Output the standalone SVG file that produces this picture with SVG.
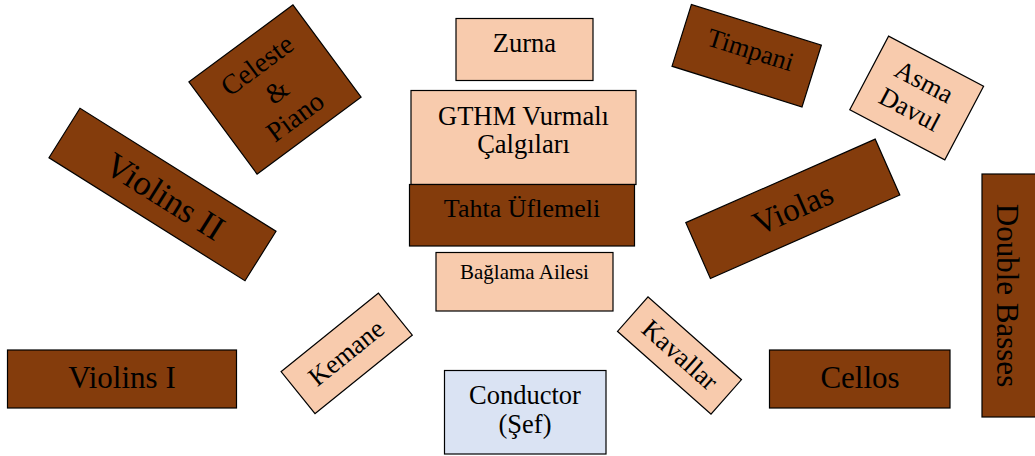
<svg xmlns="http://www.w3.org/2000/svg" width="1035" height="456" viewBox="0 0 1035 456">
  <style>
    .box { stroke: #000; stroke-width: 1.2; }
    .brown { fill: #843C0C; }
    .peach { fill: #F8CBAD; }
    .blue { fill: #DAE3F3; }
    text { font-family: "Liberation Serif", "Times New Roman", serif; fill: #000; text-anchor: middle; }
  </style>
  <rect width="1035" height="456" fill="#fff"/>

  <!-- strings, left side -->
  <g id="celeste-piano" transform="translate(275 89.5) rotate(-36.5)">
    <rect class="box brown" x="-64.7" y="-57.3" width="129.4" height="114.6"/>
    <text font-size="28" y="-21">Celeste</text>
    <text font-size="28" y="12">&amp;</text>
    <text font-size="28" y="43">Piano</text>
  </g>
  <g id="violins-2" transform="translate(162.5 194.5) rotate(32.1)">
    <rect class="box brown" x="-115.7" y="-29.2" width="231.4" height="58.4"/>
    <text font-size="35" x="3" y="12">Violins II</text>
  </g>
  <g id="violins-1">
    <rect class="box brown" x="7.5" y="350" width="229" height="58"/>
    <text font-size="31" x="122" y="388">Violins I</text>
  </g>
  <g id="kemane" transform="translate(346.7 353.3) rotate(-38.9)">
    <rect class="box peach" x="-62.5" y="-27" width="125" height="54"/>
    <text font-size="26.5" y="8">Kemane</text>
  </g>

  <!-- centre column -->
  <g id="zurna">
    <rect class="box peach" x="456" y="18.5" width="137" height="62"/>
    <text font-size="26.5" x="524.5" y="52">Zurna</text>
  </g>
  <g id="gthm-vurmali">
    <rect class="box peach" x="411" y="90.5" width="225" height="94"/>
    <text font-size="26.5" x="523.5" y="125">GTHM Vurmalı</text>
    <text font-size="26.5" x="523.5" y="153">Çalgıları</text>
  </g>
  <g id="tahta-uflemeli">
    <rect class="box brown" x="409.5" y="184.5" width="225" height="61.5"/>
    <text font-size="26" x="522" y="217">Tahta Üflemeli</text>
  </g>
  <g id="baglama-ailesi">
    <rect class="box peach" x="436" y="252.5" width="177" height="58.5"/>
    <text font-size="21" x="524.5" y="279">Bağlama Ailesi</text>
  </g>
  <g id="conductor">
    <rect class="box blue" x="444.5" y="370.5" width="161.5" height="83.5"/>
    <text font-size="26.5" x="525" y="404">Conductor</text>
    <text font-size="26.5" x="525" y="433">(Şef)</text>
  </g>

  <!-- percussion and right side -->
  <g id="timpani" transform="translate(746.7 55.7) rotate(17.4)">
    <rect class="box brown" x="-68.1" y="-32.4" width="136.2" height="64.8"/>
    <text font-size="26.5" x="2" y="2">Timpani</text>
  </g>
  <g id="asma-davul" transform="translate(916.7 98) rotate(27.8)">
    <rect class="box peach" x="-53.7" y="-41.6" width="107.4" height="83.2"/>
    <text font-size="26.5" x="-1" y="-9">Asma</text>
    <text font-size="26.5" x="-1" y="22">Davul</text>
  </g>
  <g id="violas" transform="translate(792.8 208.8) rotate(-23.8)">
    <rect class="box brown" x="-103.5" y="-30.5" width="207" height="61"/>
    <text font-size="33" y="11">Violas</text>
  </g>
  <g id="kavallar" transform="translate(679.5 355.5) rotate(41.5)">
    <rect class="box peach" x="-62.4" y="-23" width="124.8" height="46"/>
    <text font-size="26.5" y="8">Kavallar</text>
  </g>
  <g id="cellos">
    <rect class="box brown" x="769.5" y="350" width="180.5" height="58"/>
    <text font-size="31" x="860" y="388">Cellos</text>
  </g>
  <g id="double-basses">
    <rect class="box brown" x="982" y="174" width="56" height="243"/>
    <text font-size="31" transform="translate(997 295.5) rotate(90)">Double Basses</text>
  </g>
</svg>
